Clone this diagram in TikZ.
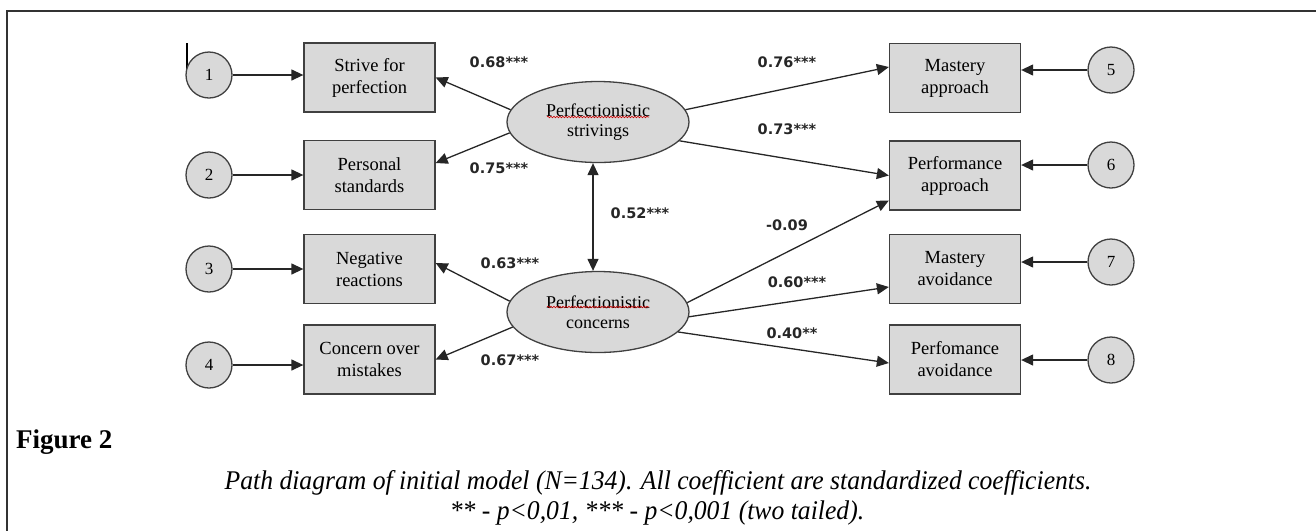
\documentclass[tikz,border=0pt]{standalone}
\usepackage{fontspec}
\setmainfont{Liberation Serif}
\newfontfamily\lblfont{DejaVu Sans}
\newfontfamily\capfont{Liberation Serif}[FakeStretch=0.95]
\usetikzlibrary{arrows.meta,shapes.geometric,decorations.pathmorphing}
\begin{document}
\begin{tikzpicture}[x=1pt,y=-1pt,
  obs/.style={draw=black!75, fill=black!15, line width=1.3pt, minimum width=131pt, minimum height=69pt, inner sep=0pt, align=center, font=\fontsize{18.5}{22}\selectfont},
  err/.style={circle, draw=black!75, fill=black!15, line width=1.3pt, minimum size=46pt, inner sep=0pt, font=\fontsize{17}{20}\selectfont},
  lat/.style={ellipse, draw=black!75, fill=black!15, line width=1.3pt, minimum width=182pt, minimum height=81pt, inner sep=0pt, align=center, font=\fontsize{18}{20}\selectfont},
  arr/.style={line width=1.3pt, draw=black!85, -{Triangle[length=12pt,width=11pt]}},
  dbl/.style={line width=1.3pt, draw=black!85, {Triangle[length=12pt,width=11pt]}-{Triangle[length=12pt,width=11pt]}},
  coef/.style={font=\lblfont\bfseries\fontsize{14.5}{17}\selectfont, text=black!85, inner sep=0pt},
  spell/.style={draw=red!80!black, line width=0.6pt, decorate, decoration={snake, amplitude=0.8pt, segment length=3pt}},
  frame/.style={line width=1.3pt, draw=black!80}
]
\useasboundingbox (0,0) rectangle (1316,531);
\draw[frame] (1316,11) -- (7,11) -- (7,531);
\draw[line width=2pt] (187,43) -- (187,72);

% observed variables
\node[obs] (b1) at (369.5,77.5) {Strive for\\perfection};
\node[obs] (b2) at (369.5,175) {Personal\\standards};
\node[obs] (b3) at (369.5,269) {Negative\\reactions};
\node[obs] (b4) at (369.5,359.5) {Concern over\\mistakes};
\node[obs] (b5) at (955,78) {Mastery\\approach};
\node[obs] (b6) at (955,175.5) {Performance\\approach};
\node[obs] (b7) at (955,269) {Mastery\\avoidance};
\node[obs] (b8) at (955,359.5) {Perfomance\\avoidance};

% error terms
\node[err] (c1) at (209,75) {1};
\node[err] (c2) at (209,175) {2};
\node[err] (c3) at (209,269) {3};
\node[err] (c4) at (209,365) {4};
\node[err] (c5) at (1111,70) {5};
\node[err] (c6) at (1111,165) {6};
\node[err] (c7) at (1111,262) {7};
\node[err] (c8) at (1111,360) {8};

% latent variables
\node[lat] (ps) at (598,122) {Perfectionistic\\strivings};
\node[lat] (pc) at (598,312) {Perfectionistic\\concerns};
\draw[spell] (547,117) -- (649,117);
\draw[spell] (547,307) -- (649,307);

% error arrows
\foreach \c/\b in {c1/b1,c2/b2,c3/b3,c4/b4}
  \draw[arr] (\c.east) -- (\c.east -| \b.west);
\foreach \c/\b in {c5/b5,c6/b6,c7/b7,c8/b8}
  \draw[arr] (\c.west) -- (\c.west -| \b.east);

% loadings
\draw[arr] (ps.172) -- (b1.east);
\draw[arr] (ps.187) -- ([yshift=12pt]b2.east);
\draw[arr] (pc.173) -- ([yshift=6pt]b3.east);
\draw[arr] (pc.190) -- (b4.east);
% paths
\draw[arr] (ps.8) -- ([yshift=11pt]b5.west);
\draw[arr] (ps.347) -- (b6.west);
\draw[arr] (pc.6) -- ([yshift=-25pt]b6.west);
\draw[arr] (pc.357) -- ([yshift=-18pt]b7.west);
\draw[arr] (pc.346) -- ([yshift=-3.5pt]b8.west);
\draw[dbl] ([xshift=-5pt]ps.south) -- ([xshift=-5pt]pc.north);

% coefficients
\node[coef] (k1) at (499,62) {0.68***};
\node[coef] (k2) at (499,168) {0.75***};
\node[coef] (k3) at (510,263) {0.63***};
\node[coef] (k4) at (510,360) {0.67***};
\node[coef] (k5) at (640,213) {0.52***};
\node[coef] (k6) at (787,62) {0.76***};
\node[coef] (k7) at (787,129) {0.73***};
\node[coef] (k8) at (787,225) {-0.09};
\node[coef] (k9) at (797,282) {0.60***};
\node[coef] (k10) at (792,333) {0.40**};

% caption
\node[anchor=base west, inner sep=0pt, font=\bfseries\fontsize{27}{30}\selectfont] (fig) at (16,448) {Figure 2};
\node[anchor=base, inner sep=0pt, font=\capfont\itshape\fontsize{27}{30}\selectfont] (cap1) at (658,489) {Path diagram of initial model (N=134). All coefficient are standardized coefficients.};
\node[anchor=base, inner sep=0pt, font=\capfont\itshape\fontsize{27}{30}\selectfont] (cap2) at (657,519) {** - p<0,01, *** - p<0,001 (two tailed).};
\end{tikzpicture}
\end{document}
